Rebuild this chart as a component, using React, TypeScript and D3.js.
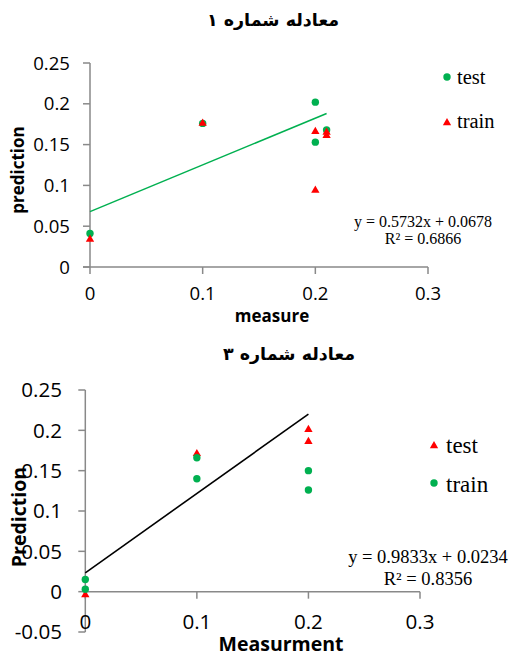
import React from "react";
import * as d3 from "d3";

// ---------- Chart 1 data ----------
const c1Title = "معادله شماره ۱";
const c1TestX = [0, 0.1, 0.2, 0.2, 0.21];
const c1TestY = [0.041, 0.176, 0.202, 0.153, 0.168];
const c1TrainX = [0, 0.1, 0.2, 0.2, 0.21, 0.21];
const c1TrainY = [0.035, 0.177, 0.167, 0.095, 0.166, 0.162];
const c1Slope = 0.5732;
const c1Intercept = 0.0678;
const c1TrendX = [0, 0.21];
const c1YTicks = [0, 0.05, 0.1, 0.15, 0.2, 0.25];
const c1YLabels = ["0", "0.05", "0.1", "0.15", "0.2", "0.25"];
const c1XTicks = [0, 0.1, 0.2, 0.3];
const c1XLabels = ["0", "0.1", "0.2", "0.3"];
const c1Eq = ["y = 0.5732x + 0.0678", "R² = 0.6866"];

// ---------- Chart 2 data ----------
const c2Title = "معادله شماره ۳";
const c2TestX = [0, 0.1, 0.2, 0.2];
const c2TestY = [-0.003, 0.172, 0.202, 0.187];
const c2TrainX = [0, 0, 0.1, 0.1, 0.2, 0.2];
const c2TrainY = [0.015, 0.003, 0.166, 0.14, 0.15, 0.126];
const c2Slope = 0.9833;
const c2Intercept = 0.0234;
const c2TrendX = [0, 0.2];
const c2YTicks = [-0.05, 0, 0.05, 0.1, 0.15, 0.2, 0.25];
const c2YLabels = ["-0.05", "0", "0.05", "0.1", "0.15", "0.2", "0.25"];
const c2XTicks = [0, 0.1, 0.2, 0.3];
const c2XLabels = ["0", "0.1", "0.2", "0.3"];
const c2Eq = ["y = 0.9833x + 0.0234", "R² = 0.8356"];

const GREEN = "#00b050";
const RED = "#ff0000";
const AXIS = "#898989";
const SANS = "'Open Sans', 'DejaVu Sans', sans-serif";
const SERIF = "'Liberation Serif', 'DejaVu Serif', serif";
const AR = "'DejaVu Sans', sans-serif";

const tri = d3.symbol().type(d3.symbolTriangle).size(30)() as string;

function Circle({ x, y, c }: { x: number; y: number; c: string }) {
  return <circle cx={x} cy={y} r={3.7} fill={c} />;
}
function Tri({ x, y, c }: { x: number; y: number; c: string }) {
  return <path d={tri} transform={`translate(${x},${y + 0.8})`} fill={c} />;
}

export default function App() {
  // Chart 1 scales
  const x1 = d3.scaleLinear().domain([0, 0.3]).range([90, 428]);
  const y1 = d3.scaleLinear().domain([0, 0.25]).range([267, 63]);
  // Chart 2 scales
  const x2 = d3.scaleLinear().domain([0, 0.3]).range([85.3, 420]);
  const y2 = d3.scaleLinear().domain([-0.05, 0.25]).range([632, 390]);

  const line1 = d3
    .line<number>()
    .x((d) => x1(d))
    .y((d) => y1(c1Slope * d + c1Intercept))(c1TrendX) as string;
  const line2 = d3
    .line<number>()
    .x((d) => x2(d))
    .y((d) => y2(c2Slope * d + c2Intercept))(c2TrendX) as string;

  return (
    <svg
      width={508}
      height={657}
      style={{ position: "absolute", left: 0, top: 0, background: "#fff" }}
    >
      <rect width={508} height={657} fill="#fff" />
      {/* ================= Chart 1 ================= */}
      <text x={273} y={26} textAnchor="middle" fontFamily={AR} fontWeight="bold" fontSize={17.5}>
        {c1Title}
      </text>
      {/* axes */}
      <line x1={x1(0)} x2={x1(0)} y1={y1(0.25)} y2={y1(0)} stroke={AXIS} strokeWidth={1.5} />
      <line x1={x1(0) - 7} x2={x1(0.3)} y1={y1(0)} y2={y1(0)} stroke={AXIS} strokeWidth={1.5} />
      {c1YTicks.map((t, i) => (
        <g key={"y1" + i}>
          <line x1={x1(0) - 7} x2={x1(0)} y1={y1(t)} y2={y1(t)} stroke={AXIS} strokeWidth={1.5} />
          <text x={70} y={y1(t)} dy="0.36em" textAnchor="end" fontFamily={SANS} fontSize={18.6} fill="#000">
            {c1YLabels[i]}
          </text>
        </g>
      ))}
      {c1XTicks.map((t, i) => (
        <g key={"x1" + i}>
          <line x1={x1(t)} x2={x1(t)} y1={y1(0)} y2={y1(0) + 7} stroke={AXIS} strokeWidth={1.5} />
          <text x={x1(t)} y={300} textAnchor="middle" fontFamily={SANS} fontSize={18.6} fill="#000">
            {c1XLabels[i]}
          </text>
        </g>
      ))}
      <text x={272} y={322} textAnchor="middle" fontFamily={SANS} fontWeight="bold" fontSize={17}>
        measure
      </text>
      <text
        transform="translate(24,170) rotate(-90)"
        textAnchor="middle"
        fontFamily={SANS}
        fontWeight="bold"
        fontSize={17}
      >
        prediction
      </text>
      <path d={line1} stroke={GREEN} strokeWidth={1.5} fill="none" />
      {c1TestX.map((v, i) => (
        <Circle key={"c1t" + i} x={x1(v)} y={y1(c1TestY[i])} c={GREEN} />
      ))}
      {c1TrainX.map((v, i) => (
        <Tri key={"c1r" + i} x={x1(v)} y={y1(c1TrainY[i])} c={RED} />
      ))}
      {/* legend */}
      <Circle x={447} y={77} c={GREEN} />
      <text x={457} y={84} fontFamily={SERIF} fontSize={20.5}>test</text>
      <Tri x={447} y={122} c={RED} />
      <text x={457} y={128} fontFamily={SERIF} fontSize={20.5}>train</text>
      <text x={423} y={226.5} textAnchor="middle" fontFamily={SERIF} fontSize={16}>{c1Eq[0]}</text>
      <text x={423} y={244} textAnchor="middle" fontFamily={SERIF} fontSize={16}>{c1Eq[1]}</text>

      {/* ================= Chart 2 ================= */}
      <text x={289} y={360} textAnchor="middle" fontFamily={AR} fontWeight="bold" fontSize={17.5}>
        {c2Title}
      </text>
      <line x1={x2(0)} x2={x2(0)} y1={y2(0.25)} y2={y2(-0.05)} stroke={AXIS} strokeWidth={1.5} />
      <line x1={x2(0)} x2={x2(0.3)} y1={y2(0)} y2={y2(0)} stroke={AXIS} strokeWidth={1.5} />
      {c2YTicks.map((t, i) => (
        <g key={"y2" + i}>
          <line x1={x2(0) - 7} x2={x2(0)} y1={y2(t)} y2={y2(t)} stroke={AXIS} strokeWidth={1.5} />
          <text x={62} y={y2(t)} dy="0.36em" textAnchor="end" fontFamily={SANS} fontSize={20.6} fill="#000">
            {c2YLabels[i]}
          </text>
        </g>
      ))}
      {c2XTicks.map((t, i) => (
        <g key={"x2" + i}>
          <line x1={x2(t)} x2={x2(t)} y1={y2(0)} y2={y2(0) + 7} stroke={AXIS} strokeWidth={1.5} />
          <text x={x2(t)} y={629} textAnchor="middle" fontFamily={SANS} fontSize={20.6} fill="#000">
            {c2XLabels[i]}
          </text>
        </g>
      ))}
      <text x={281} y={651} textAnchor="middle" fontFamily={SANS} fontWeight="bold" fontSize={19.5}>
        Measurment
      </text>
      <text
        transform="translate(26,517) rotate(-90)"
        textAnchor="middle"
        fontFamily={SANS}
        fontWeight="bold"
        fontSize={19.5}
      >
        Prediction
      </text>
      <path d={line2} stroke="#000" strokeWidth={1.6} fill="none" />
      {c2TestX.map((v, i) => (
        <Tri key={"c2t" + i} x={x2(v)} y={y2(c2TestY[i])} c={RED} />
      ))}
      {c2TrainX.map((v, i) => (
        <Circle key={"c2r" + i} x={x2(v)} y={y2(c2TrainY[i])} c={GREEN} />
      ))}
      <Tri x={434} y={445} c={RED} />
      <text x={446} y={453} fontFamily={SERIF} fontSize={23}>test</text>
      <Circle x={434} y={483} c={GREEN} />
      <text x={446} y={492} fontFamily={SERIF} fontSize={23}>train</text>
      <text x={428} y={563} textAnchor="middle" fontFamily={SERIF} fontSize={18.5}>{c2Eq[0]}</text>
      <text x={428} y={585} textAnchor="middle" fontFamily={SERIF} fontSize={18.5}>{c2Eq[1]}</text>
    </svg>
  );
}
